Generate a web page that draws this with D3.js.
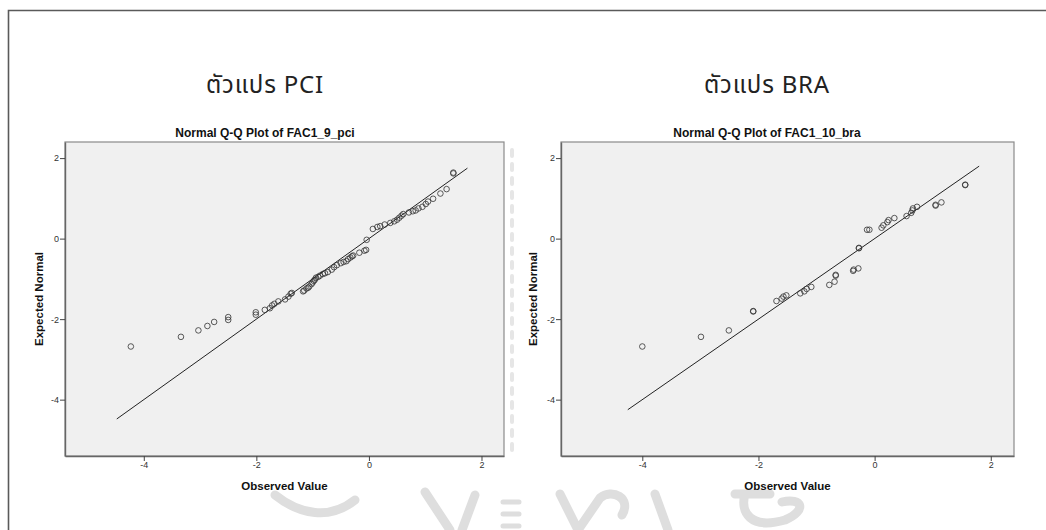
<!DOCTYPE html>
<html>
<head>
<meta charset="utf-8">
<style>
  body { margin: 0; background: #fff; }
  svg text { font-family: "Liberation Sans", Arial, sans-serif; }
</style>
</head>
<body>
<svg id="graph" width="1046" height="530"></svg>

<script src="https://d3js.org/d3.v7.min.js"></script>
<script>
// ----- data -----
var bigTitles = ["ตัวแปร PCI", "ตัวแปร BRA"];
var plotTitles = ["Normal Q-Q Plot of FAC1_9_pci", "Normal Q-Q Plot of FAC1_10_bra"];
var tickValues = [-4, -2, 0, 2];

// PCI: observed value, expected normal
var pciObserved = [-4.23, -3.34, -3.03, -2.87, -2.75, -2.50, -2.50, -2.01, -2.01, -1.85,
  -1.76, -1.72, -1.68, -1.61, -1.49, -1.43, -1.39, -1.37, -1.17, -1.15, -1.11, -1.08,
  -1.06, -1.02, -1.00, -0.98, -0.96, -0.94, -0.90, -0.87, -0.82, -0.78, -0.73, -0.66,
  -0.62, -0.57, -0.50, -0.45, -0.40, -0.37, -0.33, -0.30, -0.28, -0.17, -0.08, -0.05,
  -0.04, 0.07, 0.15, 0.20, 0.28, 0.38, 0.45, 0.50, 0.54, 0.58, 0.61, 0.71, 0.78, 0.83,
  0.88, 0.95, 1.01, 1.05, 1.14, 1.27, 1.38, 1.50, 1.50];
var pciExpected = [-2.68, -2.44, -2.28, -2.17, -2.07, -1.95, -2.02, -1.83, -1.89, -1.77,
  -1.73, -1.66, -1.62, -1.56, -1.51, -1.44, -1.37, -1.35, -1.31, -1.29, -1.24, -1.22,
  -1.19, -1.13, -1.09, -1.05, -1.02, -0.97, -0.95, -0.92, -0.88, -0.86, -0.83, -0.77,
  -0.71, -0.66, -0.61, -0.58, -0.56, -0.51, -0.47, -0.44, -0.42, -0.35, -0.30, -0.28,
  -0.03, 0.24, 0.29, 0.31, 0.35, 0.39, 0.43, 0.47, 0.52, 0.57, 0.61, 0.65, 0.68, 0.70,
  0.75, 0.79, 0.86, 0.92, 0.99, 1.12, 1.23, 1.62, 1.64];

// BRA: observed value, expected normal
var braObserved = [-4.00, -2.99, -2.51, -2.09, -2.09, -1.69, -1.60, -1.57, -1.52, -1.28,
  -1.21, -1.17, -1.09, -0.78, -0.69, -0.67, -0.67, -0.37, -0.36, -0.28, -0.27, -0.27,
  -0.13, -0.09, 0.12, 0.15, 0.22, 0.24, 0.34, 0.55, 0.63, 0.65, 0.66, 0.73, 1.05, 1.05,
  1.15, 1.56, 1.56];
var braExpected = [-2.68, -2.44, -2.28, -1.80, -1.81, -1.55, -1.49, -1.44, -1.41, -1.36,
  -1.31, -1.25, -1.20, -1.15, -1.07, -0.92, -0.90, -0.80, -0.77, -0.74, -0.23, -0.24,
  0.22, 0.22, 0.27, 0.33, 0.41, 0.46, 0.51, 0.56, 0.64, 0.70, 0.75, 0.79, 0.82, 0.84,
  0.90, 1.33, 1.34];

// reference line (y = x) ends
var pciLine = [-4.48, 1.75];
var braLine = [-4.25, 1.80];

var domain = [-5.4, 2.4];

var svg = d3.select("svg");

// outer frame of the page
svg.append("path")
    .attr("d", "M8.5,530V10.5H1046")
    .attr("fill", "none")
    .attr("stroke", "#5a5a5a")
    .attr("stroke-width", 1.6);

// faint watermark pieces
var wm = svg.append("g").attr("fill", "none").attr("stroke", "#dedede").attr("stroke-linecap", "round");
wm.append("line").attr("x1", 512).attr("x2", 512).attr("y1", 150).attr("y2", 450)
    .attr("stroke-width", 4).attr("stroke-dasharray", "6,8").attr("stroke", "#e6e6e6");
wm.append("path").attr("d", "M275,495 C300,515 330,520 355,500").attr("stroke-width", 9);
wm.append("path").attr("d", "M425,492 L450,530").attr("stroke-width", 9);
wm.append("path").attr("d", "M475,495 L462,530").attr("stroke-width", 9);
wm.append("path").attr("d", "M503,502 h16 M503,514 h16 M503,526 h16").attr("stroke-width", 5);
wm.append("path").attr("d", "M560,494 L578,530 L600,498 C612,488 632,498 622,515").attr("stroke-width", 9);
wm.append("path").attr("d", "M655,494 L668,530").attr("stroke-width", 9);
wm.append("path").attr("d", "M735,494 L770,494 M745,494 C740,512 750,530 785,520 C808,510 802,497 782,502").attr("stroke-width", 9);

var panels = [
  {left: 65, right: 504, title: plotTitles[0], big: bigTitles[0], obs: pciObserved, exp: pciExpected, line: pciLine, ylab: 39, titleX: 265},
  {left: 561, right: 1014, title: plotTitles[1], big: bigTitles[1], obs: braObserved, exp: braExpected, line: braLine, ylab: 533, titleX: 767}
];

var plotTop = 142, plotBottom = 456;

panels.forEach(function (p) {
  var x = d3.scaleLinear().domain(domain).range([p.left, p.right]);
  var y = d3.scaleLinear().domain(domain).range([plotBottom, plotTop]);

  var g = svg.append("g");

  // big Thai heading
  g.append("text")
      .attr("x", p.titleX)
      .attr("y", 93)
      .attr("text-anchor", "middle")
      .style("font-family", "'Noto Sans Thai', 'Noto Sans', 'DejaVu Sans', sans-serif")
      .style("font-size", "24px")
      .style("letter-spacing", "0.8px")
      .attr("fill", "#222")
      .text(p.big);

  // plot title
  g.append("text")
      .attr("x", p.titleX)
      .attr("y", 137)
      .attr("text-anchor", "middle")
      .style("font-size", "12px")
      .style("font-weight", "bold")
      .attr("fill", "#111")
      .text(p.title);

  // plot background
  g.append("rect")
      .attr("x", p.left)
      .attr("y", plotTop)
      .attr("width", p.right - p.left)
      .attr("height", plotBottom - plotTop)
      .attr("fill", "#f0f0f0")
      .attr("stroke", "#8a8a8a")
      .attr("stroke-width", 1.2);

  var xAxis = g.append("g")
      .attr("transform", "translate(0," + plotBottom + ")")
      .call(d3.axisBottom(x).tickValues(tickValues).tickSize(5).tickSizeOuter(0).tickPadding(1));
  var yAxis = g.append("g")
      .attr("transform", "translate(" + p.left + ",0)")
      .call(d3.axisLeft(y).tickValues(tickValues).tickSize(5).tickSizeOuter(0).tickPadding(1));

  [xAxis, yAxis].forEach(function (a) {
    a.select(".domain").attr("stroke", "#666").attr("stroke-width", 1.4);
    a.selectAll(".tick line").attr("stroke", "#444");
    a.selectAll(".tick text")
        .attr("fill", "#333")
        .style("font-family", "'Liberation Sans Narrow', 'Liberation Sans', Arial, sans-serif")
        .style("font-size", "9px")
        .text(function (d) { return d < 0 ? "-" + Math.abs(d) : d; });
  });

  // axis labels
  g.append("text")
      .attr("x", (p.left + p.right) / 2)
      .attr("y", 490)
      .attr("text-anchor", "middle")
      .style("font-size", "11.5px")
      .style("font-weight", "bold")
      .attr("fill", "#111")
      .text("Observed Value");

  g.append("text")
      .attr("transform", "translate(" + p.ylab + "," + ((plotTop + plotBottom) / 2) + ") rotate(-90)")
      .attr("text-anchor", "middle")
      .attr("dy", "0.35em")
      .style("font-size", "11.5px")
      .style("font-weight", "bold")
      .attr("fill", "#111")
      .text("Expected Normal");

  // reference line
  var refLine = d3.line()
      .x(function (d) { return x(d); })
      .y(function (d) { return y(d); });

  g.append("path")
      .datum(p.line)
      .attr("fill", "none")
      .attr("stroke", "#222")
      .attr("stroke-width", 1)
      .attr("d", refLine);

  // points
  g.selectAll("circle")
      .data(p.obs)
    .enter().append("circle")
      .attr("cx", function (d) { return x(d); })
      .attr("cy", function (d, i) { return y(p.exp[i]); })
      .attr("r", 2.8)
      .attr("fill", "none")
      .attr("stroke", "#333")
      .attr("stroke-opacity", 0.8)
      .attr("stroke-width", 1);
});
</script>
</body>
</html>
